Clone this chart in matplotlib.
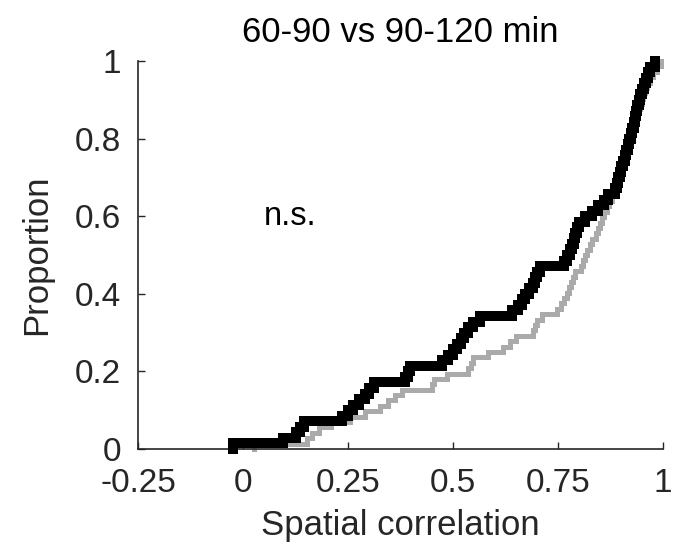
import numpy as np
import matplotlib
matplotlib.use("Agg")
import matplotlib.pyplot as plt

plt.rcParams["font.family"] = ["Liberation Sans", "DejaVu Sans"]

# Corrélations spatiales triées (une valeur par cellule)
corr_60_90 = [-0.024, 0.095, 0.125, 0.135, 0.145,
              0.235, 0.25, 0.262, 0.275, 0.29, 0.30, 0.312,
              0.386, 0.392, 0.398,
              0.474, 0.488, 0.50, 0.51, 0.518, 0.525, 0.535, 0.548, 0.565,
              0.64, 0.655, 0.665, 0.672, 0.682, 0.69, 0.695, 0.70, 0.708,
              0.765, 0.772, 0.778, 0.783, 0.787, 0.79, 0.795, 0.80,
              0.815, 0.83, 0.845, 0.86, 0.868,
              0.885, 0.89, 0.893, 0.897, 0.90, 0.905, 0.909, 0.913, 0.917, 0.92,
              0.923, 0.926, 0.93, 0.933, 0.936, 0.939, 0.942, 0.945, 0.95, 0.955,
              0.96, 0.964, 0.97, 0.98]

corr_90_120 = [0.027, 0.152, 0.165, 0.18, 0.21, 0.255, 0.29, 0.326, 0.345, 0.362,
               0.379, 0.45, 0.455, 0.486, 0.536, 0.543, 0.548, 0.583, 0.619, 0.636,
               0.65, 0.69, 0.695, 0.70, 0.712, 0.748, 0.757, 0.765, 0.772, 0.776,
               0.78, 0.785, 0.79, 0.805, 0.81, 0.815, 0.82, 0.826, 0.832, 0.84,
               0.845, 0.85, 0.855, 0.86, 0.866, 0.872, 0.878, 0.884, 0.889, 0.893,
               0.897, 0.901, 0.905, 0.909, 0.912, 0.916, 0.919, 0.923, 0.927, 0.93,
               0.934, 0.937, 0.941, 0.945, 0.949, 0.953, 0.958, 0.963, 0.968, 0.975,
               0.985, 0.995]

x_ticks = [-0.25, 0, 0.25, 0.5, 0.75, 1]
x_tick_labels = ["-0.25", "0", "0.25", "0.5", "0.75", "1"]
y_ticks = [0, 0.2, 0.4, 0.6, 0.8, 1]
y_tick_labels = ["0", "0.2", "0.4", "0.6", "0.8", "1"]

AXIS_COLOR = "#262626"


def ecdf_steps(values):
    """Coordonnées en escalier de la fonction de répartition empirique."""
    v = np.sort(np.asarray(values, dtype=float))
    n = len(v)
    xs = np.r_[v[0], v]
    ys = np.arange(n + 1) / n
    return xs, ys


fig = plt.figure(figsize=(6.95, 5.52), dpi=100)
ax = fig.add_axes([0.1986, 0.1866, 0.7554, 0.7029])

# Courbe grise d'abord, la noire par-dessus
xs, ys = ecdf_steps(corr_90_120)
ax.step(xs, ys, where="post", color="#aaaaaa", linewidth=3.6,
        solid_joinstyle="miter", solid_capstyle="projecting",
        clip_on=False, zorder=2)

xs, ys = ecdf_steps(corr_60_90)
ax.step(xs, ys, where="post", color="black", linewidth=7.2,
        solid_joinstyle="miter", solid_capstyle="projecting",
        clip_on=False, zorder=3)

ax.text(0.05, 0.6, "n.s.", fontsize=23.5, ha="left", va="center", color="black")

ax.set_xlim(-0.25, 1)
ax.set_ylim(0, 1)
ax.set_xticks(x_ticks)
ax.set_xticklabels(x_tick_labels)
ax.set_yticks(y_ticks)
ax.set_yticklabels(y_tick_labels)

# Style MATLAB : pas de boîte, graduations vers l'intérieur
for side in ["top", "right"]:
    ax.spines[side].set_visible(False)
for side in ["left", "bottom"]:
    ax.spines[side].set_color(AXIS_COLOR)
    ax.spines[side].set_linewidth(1.2)
ax.tick_params(direction="in", length=5, width=1.0, color=AXIS_COLOR,
               labelcolor=AXIS_COLOR, labelsize=24)
ax.tick_params(axis="x", pad=14)
ax.tick_params(axis="y", pad=12)

ax.set_xlabel("Spatial correlation", fontsize=25, color=AXIS_COLOR, labelpad=7)
ax.set_ylabel("Proportion", fontsize=25, color=AXIS_COLOR, labelpad=16)
ax.set_title("60-90 vs 90-120 min", fontsize=25, color="black", pad=14)

fig.savefig("out.png", dpi=100)
